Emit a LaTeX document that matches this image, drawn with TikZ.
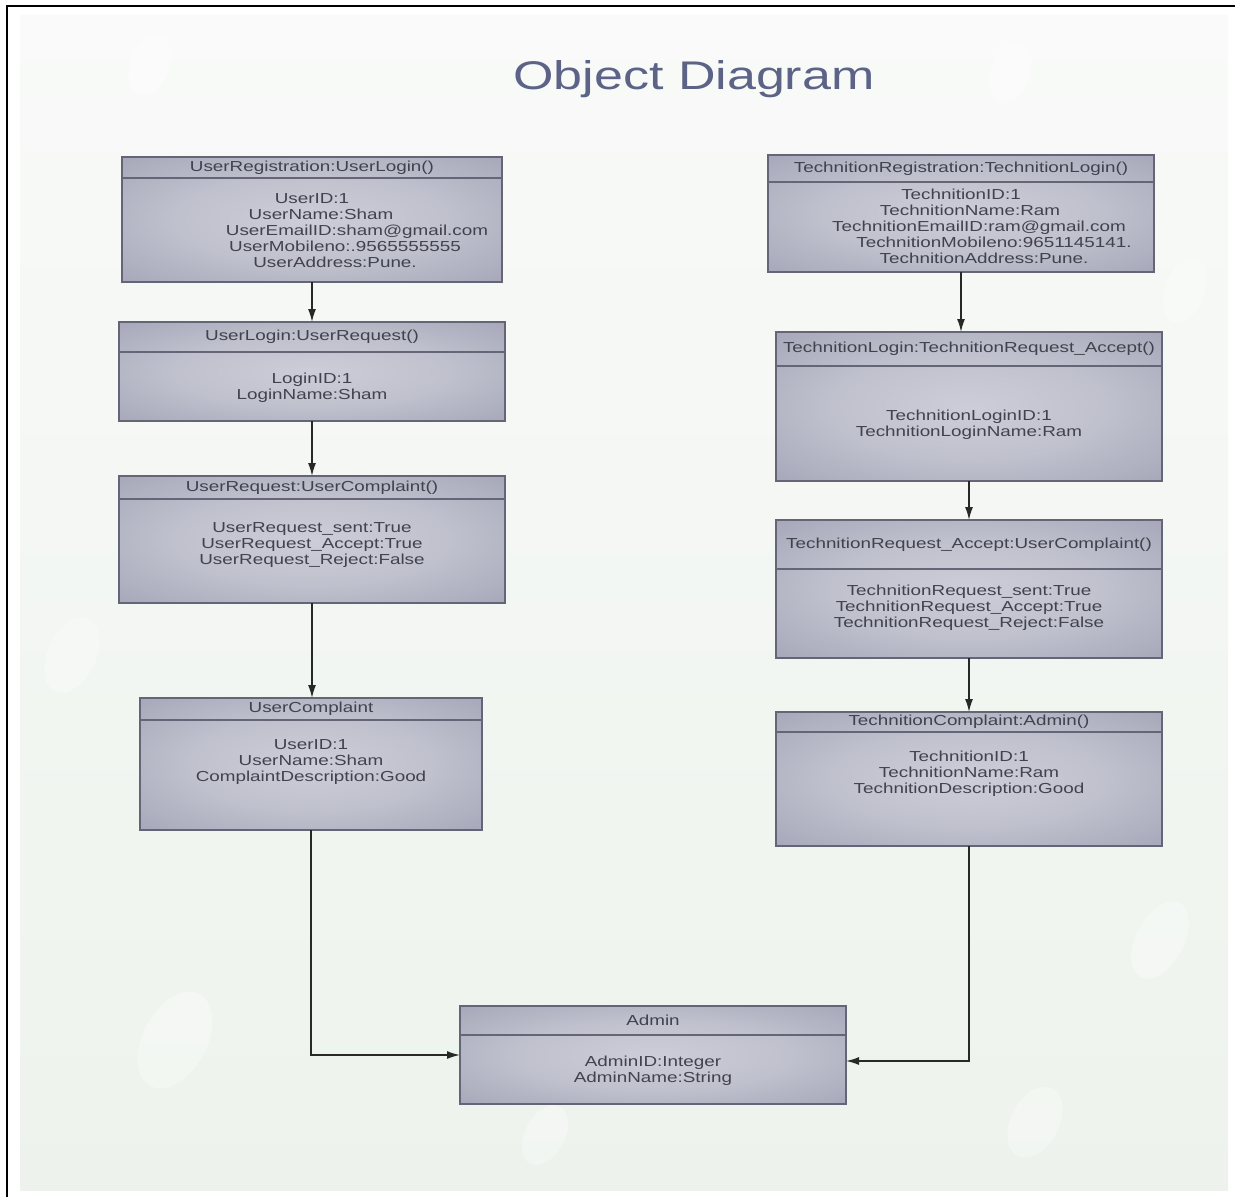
\documentclass[tikz,border=0pt]{standalone}
\usepackage{fontspec}
\usetikzlibrary{arrows.meta}
\newfontfamily\diafont[FakeStretch=1.3]{Liberation Sans}

\definecolor{boxedge}{RGB}{134,136,160}
\definecolor{boxmid}{RGB}{204,205,215}
\definecolor{boxline}{RGB}{100,101,118}
\definecolor{inktext}{RGB}{66,66,78}
\definecolor{titleink}{RGB}{92,99,135}
\definecolor{paperTop}{RGB}{249,250,249}
\definecolor{paperBot}{RGB}{237,243,236}
\definecolor{wire}{RGB}{40,40,40}

% soft glow for the object boxes
\pgfdeclareradialshading{boxglow}{\pgfpoint{0bp}{0bp}}{%
  color(0bp)=(boxmid); color(18bp)=(boxmid!82!boxedge);
  color(36bp)=(boxmid!45!boxedge); color(52bp)=(boxedge); color(100bp)=(boxedge)}

\tikzset{
  objbox/.style={rectangle, inner sep=0pt, outer sep=0pt, draw=boxline,
    line width=1.4pt, shading=boxglow},
  divline/.style={draw=boxline, line width=1.1pt},
  objtext/.style={inner sep=0pt, align=center, text=inktext,
    font=\diafont\fontsize{14.5}{16}\selectfont},
  titletext/.style={inner sep=0pt, text=titleink,
    font=\diafont\fontsize{40}{44}\selectfont},
  wirearrow/.style={draw=wire, line width=1.5pt,
    -{Latex[length=13pt,width=8pt]}},
  bubble/.style={fill=white, opacity=0.32},
}

% object box: name, x1, y1, x2, y2, divider y, body centre y, header, body
\newcommand\objbox[9]{%
  \pgfmathsetmacro\obcx{(#2+#4)/2}%
  \pgfmathsetmacro\obcy{(#3+#5)/2}%
  \pgfmathsetmacro\obw{#4-#2}%
  \pgfmathsetmacro\obh{#5-#3}%
  \pgfmathsetmacro\ohy{(#3+#6)/2}%
  \node[objbox, minimum width=\obw pt, minimum height=\obh pt] (#1) at (\obcx,\obcy) {};
  \draw[divline] (#1.west |- 0,#6) -- (#1.east |- 0,#6);
  \node[objtext] (#1-head) at (\obcx,\ohy) {#8};
  \node[objtext] (#1-body) at (\obcx,#7) {#9};
}

\begin{document}
\begin{tikzpicture}[x=1pt, y=-1pt]
\useasboundingbox (0,0) rectangle (1235,1197);

% paper
\fill[white] (0,0) rectangle (1235,1197);
\shade[top color=paperTop, bottom color=paperBot] (20,15) rectangle (1228,1190);

% soft bubbles in the backdrop
\fill[bubble] (150,65) ellipse [x radius=20pt, y radius=32pt, rotate=-20];
\fill[bubble] (1010,72) ellipse [x radius=20pt, y radius=32pt, rotate=-20];
\fill[bubble] (1185,290) ellipse [x radius=20pt, y radius=34pt, rotate=-20];
\fill[bubble] (72,655) ellipse [x radius=24pt, y radius=40pt, rotate=-25];
\fill[bubble] (175,1040) ellipse [x radius=32pt, y radius=52pt, rotate=-28];
\fill[bubble] (1160,940) ellipse [x radius=24pt, y radius=42pt, rotate=-28];
\fill[bubble] (1035,1122) ellipse [x radius=24pt, y radius=38pt, rotate=-28];
\fill[bubble] (545,1135) ellipse [x radius=20pt, y radius=32pt, rotate=-28];

% frame
\draw[line width=2pt, black] (7,1197) -- (7,6) -- (1235,6);

% title
\node[titletext] (title) at (694,79) {Object Diagram};

% left column
\objbox{ureg}{122}{157}{502}{282}{178}{231}{UserRegistration:UserLogin()}
  {UserID:1\\
   \hspace*{18pt}UserName:Sham\\
   \hspace*{90pt}UserEmailID:sham@gmail.com\\
   \hspace*{66pt}UserMobileno:.9565555555\\
   \hspace*{46pt}UserAddress:Pune.}
\objbox{ulog}{119}{322}{505}{421}{352}{387.5}{UserLogin:UserRequest()}
  {LoginID:1\\LoginName:Sham}
\objbox{ureq}{119}{476}{505}{603}{499}{545}{UserRequest:UserComplaint()}
  {UserRequest\_sent:True\\UserRequest\_Accept:True\\UserRequest\_Reject:False}
\objbox{ucomp}{140}{698}{482}{830}{720}{762}{UserComplaint}
  {UserID:1\\UserName:Sham\\ComplaintDescription:Good}

% right column
\objbox{treg}{768}{155}{1154}{272}{182}{226}{TechnitionRegistration:TechnitionLogin()}
  {TechnitionID:1\\
   \hspace*{18pt}TechnitionName:Ram\\
   \hspace*{36pt}TechnitionEmailID:ram@gmail.com\\
   \hspace*{66pt}TechnitionMobileno:9651145141.\\
   \hspace*{46pt}TechnitionAddress:Pune.}
\objbox{tlog}{776}{332}{1162}{481}{366}{424.5}{TechnitionLogin:TechnitionRequest\_Accept()}
  {TechnitionLoginID:1\\TechnitionLoginName:Ram}
\objbox{tacc}{776}{520}{1162}{658}{569}{607.5}{TechnitionRequest\_Accept:UserComplaint()}
  {TechnitionRequest\_sent:True\\TechnitionRequest\_Accept:True\\TechnitionRequest\_Reject:False}
\objbox{tcomp}{776}{712}{1162}{846}{732}{774}{TechnitionComplaint:Admin()}
  {TechnitionID:1\\TechnitionName:Ram\\TechnitionDescription:Good}

% admin
\objbox{admin}{460}{1006}{846}{1104}{1035}{1070.5}{Admin}
  {AdminID:Integer\\AdminName:String}

% links
\draw[wirearrow] (ureg.south) -- (ureg.south |- ulog.north);
\draw[wirearrow] (ulog.south) -- (ulog.south |- ureq.north);
\draw[wirearrow] (ureq.south) -- (ureq.south |- ucomp.north);
\draw[wirearrow] (ucomp.south) |- (admin.west);

\draw[wirearrow] (treg.south) -- (treg.south |- tlog.north);
\draw[wirearrow] (tlog.south) -- (tlog.south |- tacc.north);
\draw[wirearrow] (tacc.south) -- (tacc.south |- tcomp.north);
\draw[wirearrow] (tcomp.south) |- ([yshift=-6pt]admin.east);
\end{tikzpicture}
\end{document}
